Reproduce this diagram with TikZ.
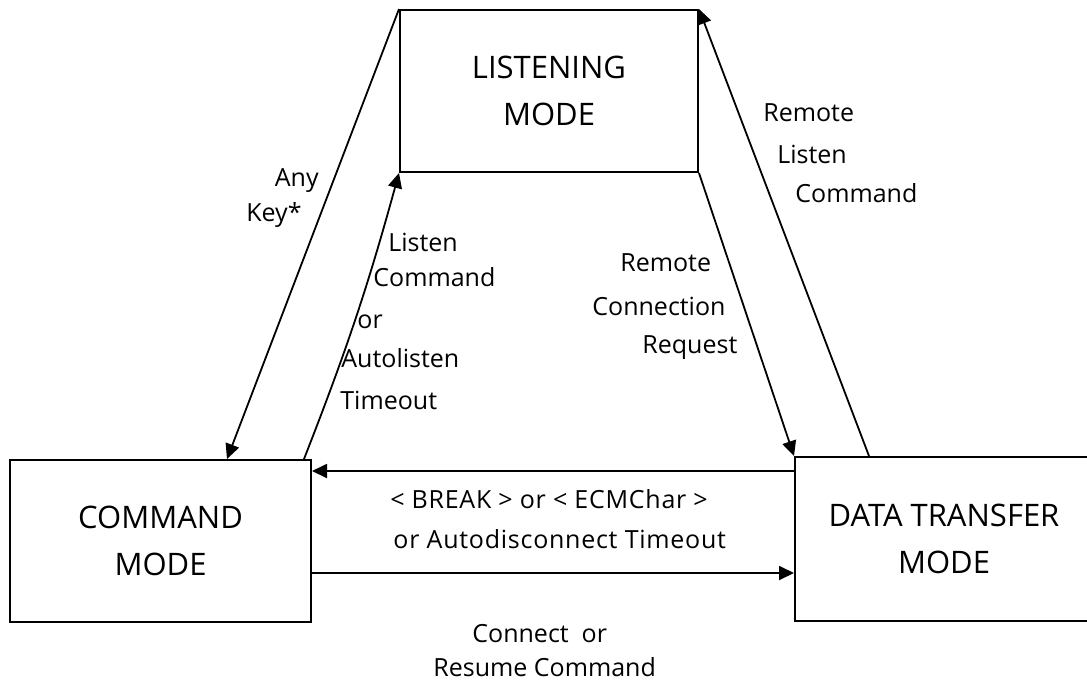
\documentclass[tikz,border=0pt]{standalone}
\usepackage{fontspec}
\setmainfont{Open Sans}
\usetikzlibrary{arrows.meta}

\tikzset{
  box/.style={draw, line width=1pt, align=center, inner sep=0pt,
    font=\fontsize{15.5}{23.5}\selectfont},
  lbl/.style={inner sep=0pt, font=\fontsize{12.5}{14}\selectfont},
  widelbl/.style={lbl, font=\fontsize{12.5}{14}\selectfont\addfontfeatures{LetterSpace=3}},
  arr/.style={line width=0.9pt, -{Triangle[length=7.5pt,width=7pt]}}
}

\begin{document}
\begin{tikzpicture}[x=0.5pt, y=-0.5pt]
\useasboundingbox (0,0) rectangle (1087,681);

% the three modes
\node[box, minimum width=149pt, minimum height=81pt] (listen) at (549,91) {LISTENING\\MODE};
\node[box, minimum width=150.5pt, minimum height=81pt] (cmd) at (160.5,541) {COMMAND\\MODE};
\node[box, minimum width=149pt, minimum height=82pt] (data) at (944,539) {DATA TRANSFER\\MODE};

% transitions
\draw[arr] (listen.north west) -- ([xshift=109pt]cmd.north west);
\draw[arr] ([xshift=-4pt]cmd.north east) to[bend right=3] (listen.south west);
\draw[arr] (listen.south east) -- (data.north west);
\draw[arr] ([xshift=37.5pt]data.north west) -- (listen.north east);

\coordinate (brk) at ([yshift=-7.5pt]data.north west);
\draw[arr] (brk) -- (brk -| cmd.east);
\coordinate (con) at ([yshift=25pt]cmd.south east);
\draw[arr] (con) -- (con -| data.west);

% labels
\foreach \t/\x/\y [count=\i] in {Any/319/186, Key*/302/221}{
\node[lbl, anchor=base east] (ak\i) at (\x,\y) {\t};
}
\foreach \t/\x/\y [count=\i] in {Listen/388/251, Command/373/286, or/357/328, Autolisten/341/367, Timeout/340/409}{
\node[lbl, anchor=base west] (lc\i) at (\x,\y) {\t};
}
\foreach \t/\x/\y [count=\i] in {Remote/620/271, Connection/592/315, Request/642/353}{
\node[lbl, anchor=base west] (rc\i) at (\x,\y) {\t};
}
\foreach \t/\x/\y [count=\i] in {Remote/763/121, Listen/777/163, Command/795/202}{
\node[lbl, anchor=base west] (rl\i) at (\x,\y) {\t};
}

\node[widelbl, anchor=base west] (bk1) at (390,508) {<\;BREAK\;>\ or\ <\;ECMChar\;>};
\node[widelbl, anchor=base west] (bk2) at (393,548) {or Autodisconnect Timeout};
\node[lbl, anchor=base west] (cn1) at (472,642) {Connect\ \ or};
\node[lbl, anchor=base west] (cn2) at (433,676) {Resume Command};
\end{tikzpicture}
\end{document}
